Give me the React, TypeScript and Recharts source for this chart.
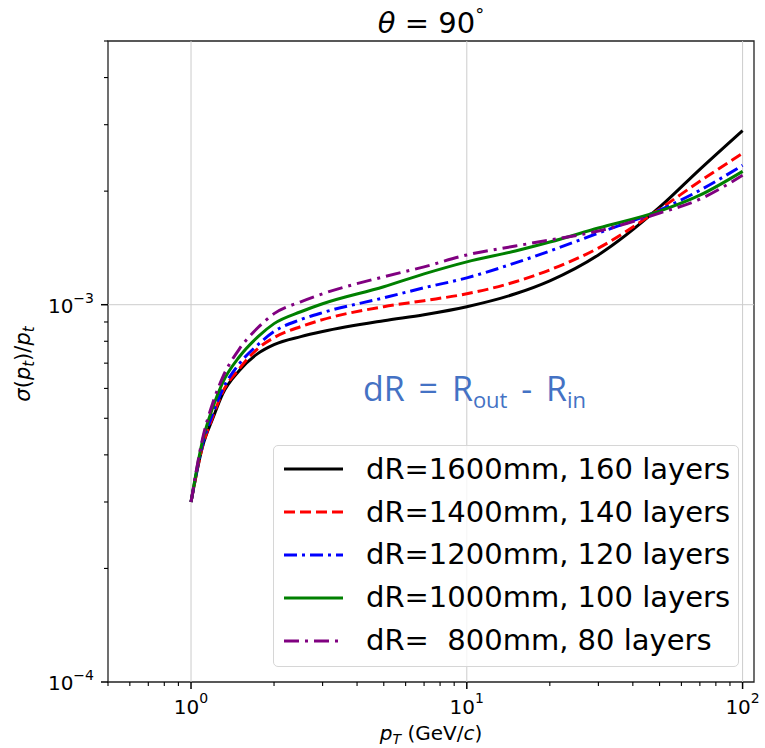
import React from 'react'
import {
  LineChart,
  Line,
  XAxis,
  YAxis,
  Legend,
  ReferenceLine,
  ReferenceArea
} from 'recharts'

// pT points (GeV/c)
const pT = [1, 1.1, 1.2, 1.3, 1.5, 1.75, 2, 2.5, 3, 5, 7, 10, 15, 20, 30, 50, 70, 100]

// sigma(pt)/pt for each detector depth
const dR1600 = [3.0e-4, 4.2e-4, 5.0e-4, 5.79e-4, 6.7e-4, 7.43e-4, 7.84e-4, 8.23e-4, 8.49e-4, 9.07e-4, 9.41e-4, 9.88e-4, 1.069e-3, 1.157e-3, 1.355e-3, 1.813e-3, 2.285e-3, 2.895e-3]
const dR1400 = [3.0e-4, 4.2e-4, 5.05e-4, 5.85e-4, 6.78e-4, 7.66e-4, 8.18e-4, 8.75e-4, 9.13e-4, 9.88e-4, 1.025e-3, 1.069e-3, 1.15e-3, 1.237e-3, 1.413e-3, 1.792e-3, 2.124e-3, 2.518e-3]
const dR1200 = [3.0e-4, 4.25e-4, 5.15e-4, 5.95e-4, 6.99e-4, 7.84e-4, 8.49e-4, 9.13e-4, 9.53e-4, 1.043e-3, 1.109e-3, 1.178e-3, 1.291e-3, 1.388e-3, 1.549e-3, 1.781e-3, 2.011e-3, 2.341e-3]
const dR1000 = [3.0e-4, 4.35e-4, 5.35e-4, 6.2e-4, 7.29e-4, 8.23e-4, 8.91e-4, 9.58e-4, 1.006e-3, 1.116e-3, 1.207e-3, 1.299e-3, 1.388e-3, 1.466e-3, 1.597e-3, 1.77e-3, 1.951e-3, 2.257e-3]
const dR800 = [3.0e-4, 4.4e-4, 5.5e-4, 6.4e-4, 7.65e-4, 8.7e-4, 9.47e-4, 1.018e-3, 1.069e-3, 1.186e-3, 1.26e-3, 1.355e-3, 1.431e-3, 1.484e-3, 1.568e-3, 1.749e-3, 1.904e-3, 2.203e-3]

const xTicks = [0.5, 0.6, 0.7, 0.8, 0.9, 1, 2, 3, 4, 5, 6, 7, 8, 9, 10, 20, 30, 40, 50, 60, 70, 80, 90, 100]
const yTicks = [1e-4, 2e-4, 3e-4, 4e-4, 5e-4, 6e-4, 7e-4, 8e-4, 9e-4, 1e-3, 2e-3, 3e-3, 4e-3, 5e-3]
const xGrid = [1, 10, 100]
const yGrid = [1e-3]

const series = [
  { key: 'd1600', values: dR1600, name: 'dR=1600mm, 160 layers', color: '#000000', dash: undefined },
  { key: 'd1400', values: dR1400, name: 'dR=1400mm, 140 layers', color: '#ff0000', dash: '11 5' },
  { key: 'd1200', values: dR1200, name: 'dR=1200mm, 120 layers', color: '#0000ff', dash: '13 5 3 5' },
  { key: 'd1000', values: dR1000, name: 'dR=1000mm, 100 layers', color: '#008000', dash: undefined },
  { key: 'd800', values: dR800, name: 'dR=  800mm, 80 layers', color: '#800080', dash: '15 6 3 6' }
]

const data = pT.map((x, i) => {
  const row: any = { x }
  series.forEach(s => { row[s.key] = s.values[i] })
  return row
})

const FONT = '"DejaVu Sans", sans-serif'

const isMajor = (v: number) => Math.abs(Math.log10(v) - Math.round(Math.log10(v))) < 1e-6
const expOf = (v: number) => {
  const e = Math.round(Math.log10(v))
  return e < 0 ? '\u2212' + Math.abs(e) : String(e)
}

const XTick = (props: any) => {
  const { x, y, payload } = props
  const v = payload.value
  const major = isMajor(v)
  return (
    <g>
      <line x1={x} x2={x} y1={y} y2={y + (major ? 7 : 4)} stroke="#000" strokeWidth={major ? 1.5 : 1.1} />
      {major && (
        <text x={x} y={y + 32} textAnchor="middle" fontSize={20} fontFamily={FONT} fill="#000">
          10<tspan dy={-11} fontSize={14}>{expOf(v)}</tspan>
        </text>
      )}
    </g>
  )
}

const YTick = (props: any) => {
  const { x, y, payload } = props
  const v = payload.value
  const major = isMajor(v)
  return (
    <g>
      <line x1={x} x2={x - (major ? 7 : 4)} y1={y} y2={y} stroke="#000" strokeWidth={major ? 1.5 : 1.1} />
      {major && (
        <text x={x - 14} y={y + 8} textAnchor="end" fontSize={20} fontFamily={FONT} fill="#000">
          10<tspan dy={-10} fontSize={14}>{expOf(v)}</tspan>
        </text>
      )}
    </g>
  )
}

const LegendBox = () => (
  <div
    style={{
      width: 466,
      height: 222,
      boxSizing: 'border-box',
      border: '1px solid #d6d6d6',
      borderRadius: 5,
      background: 'rgba(255,255,255,0.8)',
      padding: '2px 0 0 0',
      fontFamily: FONT,
      fontSize: 29,
      color: '#000'
    }}
  >
    {series.map(s => (
      <div key={s.key} style={{ height: 42.8, display: 'flex', alignItems: 'center' }}>
        <svg width={92} height={20} style={{ flex: 'none' }}>
          <line x1={10} x2={69} y1={10} y2={10} stroke={s.color} strokeWidth={3} strokeDasharray={s.dash} />
        </svg>
        <span style={{ whiteSpace: 'pre', lineHeight: 1 }}>{s.name}</span>
      </div>
    ))}
  </div>
)

export default function App() {
  return (
    <div style={{ position: 'absolute', left: 0, top: 0, width: 765, height: 748, background: '#fff' }}>
      <LineChart width={765} height={748} data={data} margin={{ top: 41, right: 11, bottom: 16, left: 8 }}>
        <XAxis
          dataKey="x"
          type="number"
          scale="log"
          domain={[0.5, 110]}
          allowDataOverflow
          ticks={xTicks}
          interval={0}
          tick={<XTick />}
          tickLine={false}
          tickSize={0}
          tickMargin={0}
          axisLine={false}
          height={50}
        />
        <YAxis
          type="number"
          scale="log"
          domain={[1e-4, 5e-3]}
          allowDataOverflow
          ticks={yTicks}
          interval={0}
          tick={<YTick />}
          tickLine={false}
          tickSize={0}
          tickMargin={0}
          axisLine={false}
          width={100}
        />
        {xGrid.map(v => (
          <ReferenceLine key={'gx' + v} x={v} stroke="#cccccc" strokeWidth={1} />
        ))}
        {yGrid.map(v => (
          <ReferenceLine key={'gy' + v} y={v} stroke="#cccccc" strokeWidth={1} />
        ))}
        <ReferenceArea x1={0.5} x2={110} y1={1e-4} y2={5e-3} fill="none" fillOpacity={0} stroke="#222" strokeWidth={1.3} />
        {series.map(s => (
          <Line
            key={s.key}
            dataKey={s.key}
            name={s.name}
            type="monotone"
            stroke={s.color}
            strokeWidth={3}
            strokeDasharray={s.dash}
            dot={false}
            isAnimationActive={false}
          />
        ))}
        <Legend
          layout="vertical"
          align="center"
          verticalAlign="middle"
          content={<LegendBox />}
          wrapperStyle={{ left: 273, top: 445, width: 466, height: 222 }}
        />
      </LineChart>

      <svg width={765} height={748} style={{ position: 'absolute', left: 0, top: 0, pointerEvents: 'none' }}>
        <text x={431} y={33} textAnchor="middle" fontSize={29} fontFamily={FONT} fill="#000">
          <tspan fontStyle="italic">θ</tspan> = 90<tspan dy={-12} fontSize={18}>°</tspan>
        </text>
        <text x={431} y={740} textAnchor="middle" fontSize={20} fontFamily={FONT} fill="#000">
          <tspan fontStyle="italic">p</tspan>
          <tspan fontStyle="italic" fontSize={14} dy={4}>T</tspan>
          <tspan dy={-4}> (GeV/</tspan>
          <tspan fontStyle="italic">c</tspan>
          <tspan>)</tspan>
        </text>
        <text
          x={0}
          y={0}
          transform="translate(30,364) rotate(-90)"
          textAnchor="middle"
          fontSize={21}
          fontFamily={FONT}
          fill="#000"
        >
          <tspan fontStyle="italic">σ</tspan>
          <tspan>(</tspan>
          <tspan fontStyle="italic">p</tspan>
          <tspan fontStyle="italic" fontSize={15} dy={4}>t</tspan>
          <tspan dy={-4}>)/</tspan>
          <tspan fontStyle="italic">p</tspan>
          <tspan fontStyle="italic" fontSize={15} dy={4}>t</tspan>
        </text>
      </svg>

      <div
        style={{
          position: 'absolute',
          left: 363,
          top: 368,
          fontFamily: '"Open Sans", sans-serif',
          fontSize: 34,
          color: '#4472C4',
          whiteSpace: 'pre',
          lineHeight: 1.2,
          wordSpacing: 5
        }}
      >
        dR = R<sub style={{ fontSize: 22, verticalAlign: -7 }}>out</sub> - R<sub style={{ fontSize: 22, verticalAlign: -7 }}>in</sub>
      </div>
    </div>
  )
}
